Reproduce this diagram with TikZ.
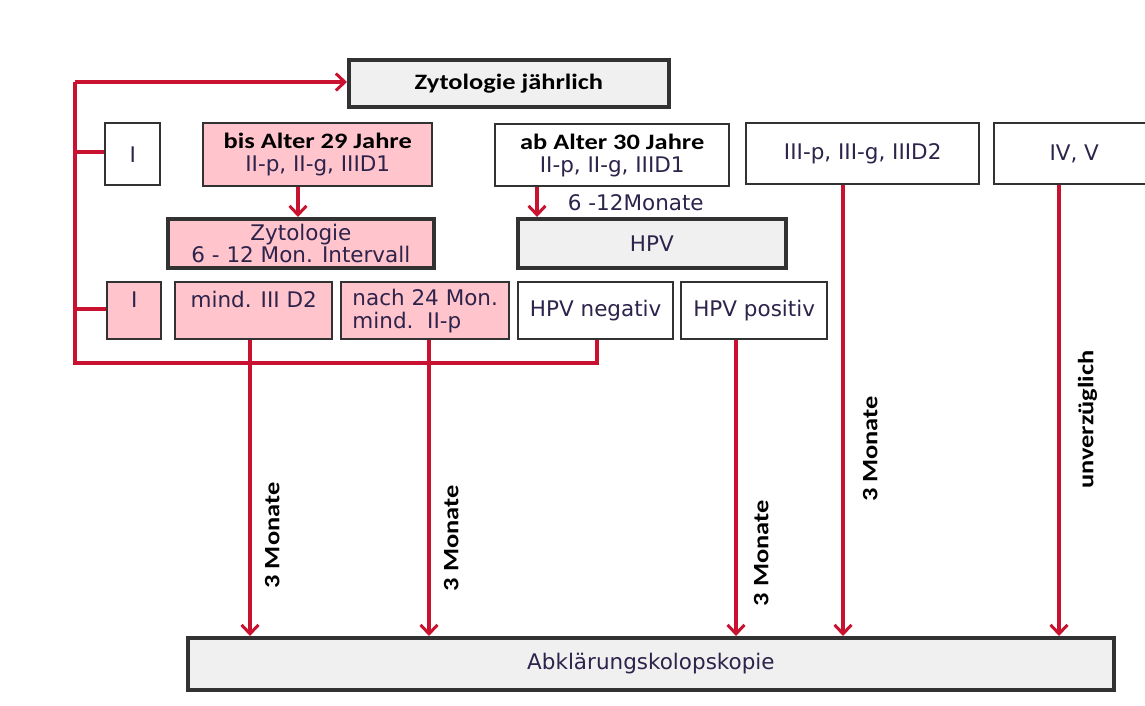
\documentclass[tikz,border=0pt]{standalone}
\usepackage{fontspec}
\setmainfont{DejaVu Sans}
\newfontfamily\wideb[FakeStretch=1.2]{Carlito}
\usetikzlibrary{arrows.meta}
\definecolor{rd}{RGB}{200,18,48}
\definecolor{pk}{RGB}{255,196,204}
\definecolor{gy}{RGB}{240,240,240}
\definecolor{bd}{RGB}{50,50,50}
\definecolor{tx}{RGB}{45,35,75}
\newcommand\ttlfont{\wideb\bfseries\fontsize{22}{24}\selectfont}
\tikzset{
  box/.style={draw=bd, line width=2.4pt, anchor=north west, inner sep=0pt, align=center, text=tx, font=\fontsize{21.5}{23}\selectfont},
  tbox/.style={box, line width=3.8pt, fill=gy},
  pbox/.style={box, fill=pk},
  wbox/.style={box, fill=white},
  rline/.style={draw=rd, line width=3.2pt},
  rarrow/.style={rline, -{Straight Barb[length=9pt,width=17pt,line width=3pt]}},
  vlab/.style={rotate=90, font=\ttlfont, text=black}
}
\begin{document}
\begin{tikzpicture}[x=1pt,y=-1pt]
\useasboundingbox (0,0) rectangle (1145,705);
% top
\node[tbox, minimum width=320pt, minimum height=47pt, text=black, font=\ttlfont] (zj) at (347,58) {Zytologie jährlich};
\node[wbox, minimum width=55pt, minimum height=62pt] (i1) at (104,122) {I};
\node[pbox, minimum width=229pt, minimum height=63pt] (b29) at (202,122) {{\ttlfont\color{black}bis Alter 29 Jahre}\\II-p, II-g, IIID1};
\node[wbox, minimum width=234pt, minimum height=62pt] (a30) at (494,123) {{\ttlfont\color{black}ab Alter 30 Jahre}\\II-p, II-g, IIID1};
\node[wbox, minimum width=233pt, minimum height=61pt] (iii) at (745,122) {III-p, III-g, IIID2};
\node[wbox, minimum width=160pt, minimum height=61pt] (iv) at (993,122) {IV, V};
% second row
\node[tbox, fill=pk, minimum width=266pt, minimum height=49pt, font=\fontsize{21.5}{21.5}\selectfont] (zi) at (166,217) {Zytologie\\6 - 12 Mon. Intervall};
\node[tbox, minimum width=268pt, minimum height=49pt] (hpv) at (516,217) {HPV};
% third row
\node[pbox, minimum width=54pt, minimum height=57pt] (i2) at (106,281) {I\\\phantom{I}};
\node[pbox, minimum width=157pt, minimum height=57pt] (m3) at (174,281) {mind. III D2\\\phantom{I}};
\node[pbox, minimum width=168pt, minimum height=57pt, align=left] (n24) at (340,281) {nach 24 Mon.\\mind.\ \ II-p};
\node[wbox, minimum width=155pt, minimum height=57pt] (hn) at (517,281) {HPV negativ};
\node[wbox, minimum width=146pt, minimum height=57pt] (hp) at (680,281) {HPV positiv};
% bottom
\node[tbox, minimum width=926pt, minimum height=52pt] (ak) at (186,636) {Abklärungskolopskopie};
% coordinates
\coordinate (c1) at (75,82);
\coordinate (c2) at (75,363);
\coordinate (c3) at (597,363);
\coordinate (y1) at (0,152);
\coordinate (y2) at (0,309);
\coordinate (x1) at (298,0);
\coordinate (x2) at (537,0);
\coordinate (x3) at (250,0);
\coordinate (x4) at (429,0);
\coordinate (x5) at (736,0);
\coordinate (x6) at (843,0);
\coordinate (x7) at (1059,0);
% connectors
\draw[rline] (hn.south -| c3) -- (c3) -- (c2) -- (c1);
\draw[rarrow] (c1) -- (zj.west |- c1);
\draw[rline] (c1 |- y1) -- (i1.west |- y1);
\draw[rline] (c1 |- y2) -- (i2.west |- y2);
\draw[rarrow] (b29.south -| x1) -- (zi.north -| x1);
\draw[rarrow] (a30.south -| x2) -- node[anchor=west, xshift=26pt, pos=0.5, font=\fontsize{21.5}{23}\selectfont, text=tx] {6 -12Monate} (hpv.north -| x2);
\draw[rarrow] (m3.south -| x3) -- node[vlab, below=10pt, pos=0.66] {3 Monate} (ak.north -| x3);
\draw[rarrow] (n24.south -| x4) -- node[vlab, below=10pt, pos=0.67] {3 Monate} (ak.north -| x4);
\draw[rarrow] (hp.south -| x5) -- node[vlab, below=13pt, pos=0.72] {3 Monate} (ak.north -| x5);
\draw[rarrow] (iii.south -| x6) -- node[vlab, below=15pt, pos=0.585] {3 Monate} (ak.north -| x6);
\draw[rarrow] (iv.south -| x7) -- node[vlab, below=14pt, pos=0.52] {unverzüglich} (ak.north -| x7);
\end{tikzpicture}
\end{document}
